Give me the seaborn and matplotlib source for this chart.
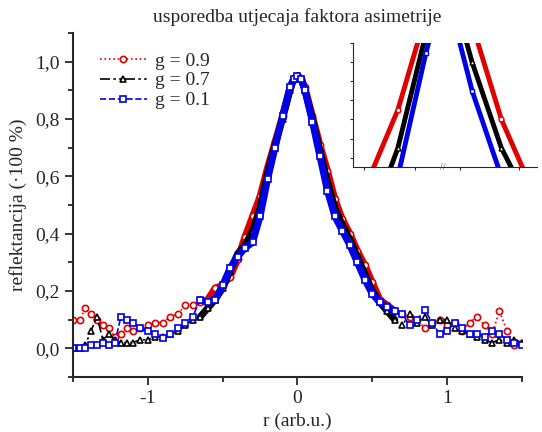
import matplotlib
matplotlib.use('Agg')
import matplotlib.pyplot as plt
import seaborn as sns

# radial position (arb. u.)
r = [-1.50, -1.45, -1.42, -1.38, -1.34, -1.30, -1.26, -1.22, -1.18, -1.14,
     -1.10, -1.05, -1.00, -0.95, -0.90, -0.85, -0.80, -0.75, -0.70, -0.65,
     -0.60, -0.55, -0.50, -0.45, -0.40, -0.35, -0.30, -0.25, -0.20, -0.15,
     -0.10, -0.05, -0.025, 0.00, 0.025, 0.05, 0.10, 0.15, 0.20, 0.25, 0.30,
     0.35, 0.40, 0.45, 0.50, 0.55, 0.60, 0.65, 0.70, 0.75, 0.80, 0.85, 0.90,
     0.95, 1.00, 1.05, 1.10, 1.15, 1.20, 1.25, 1.30, 1.35, 1.40, 1.45, 1.50]

# reflectance for the three asymmetry factors
g09 = [0.10, 0.10, 0.14, 0.12, 0.10, 0.08, 0.07, 0.04, 0.05, 0.07,
       0.06, 0.07, 0.08, 0.09, 0.09, 0.11, 0.12, 0.15, 0.15, 0.16,
       0.17, 0.21, 0.22, 0.25, 0.31, 0.39, 0.46, 0.53, 0.63, 0.72,
       0.81, 0.91, 0.94, 0.95, 0.94, 0.91, 0.81, 0.71, 0.62, 0.52, 0.45,
       0.40, 0.34, 0.29, 0.23, 0.17, 0.15, 0.13, 0.12, 0.11, 0.10, 0.07, 0.09,
       0.10, 0.08, 0.09, 0.06, 0.09, 0.11, 0.08, 0.05, 0.13, 0.06, 0.01, 0.02]

g07 = [0.00, 0.00, 0.01, 0.06, 0.11, 0.03, 0.05, 0.03, 0.02, 0.02,
       0.02, 0.03, 0.03, 0.04, 0.04, 0.05, 0.06, 0.08, 0.10, 0.11,
       0.14, 0.17, 0.21, 0.27, 0.33, 0.36, 0.41, 0.49, 0.61, 0.71,
       0.80, 0.90, 0.94, 0.95, 0.94, 0.90, 0.80, 0.69, 0.58, 0.49, 0.43,
       0.38, 0.32, 0.26, 0.20, 0.16, 0.13, 0.10, 0.08, 0.12, 0.09, 0.11, 0.08,
       0.10, 0.10, 0.07, 0.06, 0.05, 0.04, 0.03, 0.02, 0.03, 0.02, 0.03, 0.02]

g01 = [0.00, 0.00, 0.00, 0.01, 0.01, 0.02, 0.01, 0.02, 0.11, 0.10,
       0.09, 0.07, 0.06, 0.05, 0.035, 0.05, 0.07, 0.09, 0.11, 0.17,
       0.16, 0.17, 0.22, 0.28, 0.32, 0.35, 0.37, 0.46, 0.59, 0.70,
       0.81, 0.91, 0.94, 0.95, 0.94, 0.90, 0.79, 0.67, 0.55, 0.46, 0.41,
       0.36, 0.30, 0.24, 0.19, 0.16, 0.145, 0.13, 0.12, 0.08, 0.10, 0.135, 0.09,
       0.05, 0.06, 0.09, 0.07, 0.05, 0.05, 0.04, 0.06, 0.05, 0.03, 0.02, 0.01]

series = [
    ('g = 0.9', g09, '#e00000', 'o', ':'),
    ('g = 0.7', g07, 'black', '^', (0, (6, 2, 1.5, 2, 1.5, 2))),
    ('g = 0.1', g01, '#0000e6', 's', '--'),
]

sns.set_style('ticks')
plt.rcParams['font.family'] = ['Liberation Serif', 'DejaVu Serif']

fig = plt.figure(figsize=(5.42, 4.32), dpi=100)
ax = fig.add_axes([0.1347, 0.1273, 0.8283, 0.7963])

core = [i for i, v in enumerate(r) if abs(v) <= 0.66]
for label, vals, col, mk, ls in series:
    # dense central part rendered as a solid band
    sns.lineplot(x=[r[i] for i in core], y=[vals[i] for i in core], ax=ax,
                 color=col, lw=5, solid_capstyle='round', sort=False,
                 estimator=None, legend=False)
    sns.lineplot(x=r, y=vals, ax=ax, color=col, lw=1.2, linestyle=ls,
                 marker=mk, markersize=4.5, markerfacecolor='white',
                 markeredgecolor=col, markeredgewidth=1.2, sort=False,
                 estimator=None, label=label)

ax.set_xlim(-1.5, 1.5)
ax.set_ylim(-0.1, 1.1)
ax.set_xticks([-1, 0, 1])
ax.set_xticklabels(['-1', '0', '1'])
ax.set_xticks([-1.5, -0.5, 0.5, 1.5], minor=True)
ax.set_yticks([0.0, 0.2, 0.4, 0.6, 0.8, 1.0])
ax.set_yticklabels(['0,0', '0,2', '0,4', '0,6', '0,8', '1,0'])
ax.set_yticks([-0.1, 0.1, 0.3, 0.5, 0.7, 0.9, 1.1], minor=True)
ax.tick_params(which='major', length=6, width=1.3, labelsize=14, direction='out')
ax.tick_params(which='minor', length=3.5, width=1.3, direction='out')
for s in ['top', 'right']:
    ax.spines[s].set_visible(False)
for s in ['left', 'bottom']:
    ax.spines[s].set_linewidth(1.5)

ax.set_xlabel('r (arb.u.)', fontsize=14, labelpad=4)
ax.set_ylabel('reflektancija (·100 %)', fontsize=14, labelpad=6)
ax.set_title('usporedba utjecaja faktora asimetrije', fontsize=14, pad=8)

leg = ax.legend(loc='upper left', bbox_to_anchor=(0.06, 0.945), frameon=False,
                fontsize=14, handlelength=2.4, handletextpad=0.45,
                labelspacing=0.12, borderpad=0, borderaxespad=0)

# inset with broken x axis
ins_l = fig.add_axes([0.651, 0.613, 0.166, 0.287])
ins_r = fig.add_axes([0.817, 0.613, 0.173, 0.287])
for a in (ins_l, ins_r):
    for label, vals, col, mk, ls in series:
        sns.lineplot(x=r, y=vals, ax=a, color=col, lw=3.5, sort=False,
                     estimator=None, legend=False)
        sns.lineplot(x=r, y=vals, ax=a, color=col, lw=0, marker=mk,
                     markersize=3.5, markerfacecolor='white',
                     markeredgecolor=col, markeredgewidth=1, sort=False,
                     estimator=None, legend=False)
    a.set_ylim(0.47, 0.60)
    a.set_xlabel('')
    a.set_ylabel('')
    a.spines['top'].set_visible(False)
    a.spines['right'].set_visible(False)
    a.patch.set_alpha(0)
ins_l.set_xlim(-0.33, -0.17)
ins_r.set_xlim(0.15, 0.31)
ins_l.set_xticks([-0.31, -0.22])
ins_r.set_xticks([0.18, 0.28])
ins_l.set_yticks([0.48, 0.50, 0.52, 0.54, 0.56, 0.58, 0.60])
ins_r.set_yticks([])
ins_r.spines['left'].set_visible(False)
for a in (ins_l, ins_r):
    a.set_xticklabels([])
    a.set_yticklabels([])
    a.tick_params(length=2, width=0.8, direction='out')
    a.spines['bottom'].set_linewidth(0.8)
ins_l.spines['left'].set_linewidth(0.8)
ins_l.text(1.0, 0.0, '//', transform=ins_l.transAxes, ha='center',
           va='center', fontsize=7, color='#555555')

fig.savefig('out.png', dpi=100)
